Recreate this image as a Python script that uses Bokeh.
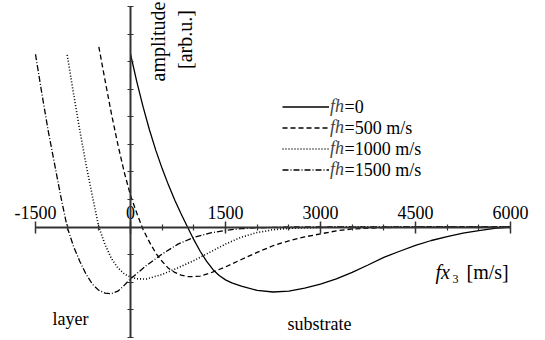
import math
from bokeh.plotting import figure
from bokeh.models import (Range1d, LinearAxis, FixedTicker, CustomJSTickFormatter,
                          Legend, LegendItem, Label)
from bokeh.embed import file_html
from bokeh.resources import INLINE

# ---------------- data ----------------
x_fh0 = [0, 100, 200, 300, 400, 500, 600, 700, 800, 900, 1000, 1100, 1200, 1300, 1400,
         1500, 1600, 1750, 2000, 2250, 2500, 2750, 3000, 3250, 3500, 3750, 4000, 4250,
         4500, 4750, 5000, 5250, 5500, 5750, 6000]
y_fh0 = [6.28, 5.27, 4.35, 3.52, 2.78, 2.12, 1.52, 0.97, 0.47, 0.0, -0.46, -0.88, -1.24,
         -1.54, -1.76, -1.92, -2.03, -2.15, -2.30, -2.36, -2.33, -2.22, -2.07, -1.88,
         -1.65, -1.38, -1.10, -0.88, -0.67, -0.49, -0.35, -0.22, -0.13, -0.05, 0.0]

x_fh500 = [-500, -400, -300, -200, -100, 0, 100, 200, 300, 400, 500, 600, 700, 800, 900,
           1000, 1100, 1250, 1500, 1750, 2000, 2250, 2500, 2750, 3000, 3250, 3500, 4000,
           4500, 6000]
y_fh500 = [6.54, 5.30, 4.10, 3.00, 2.00, 1.15, 0.50, -0.10, -0.55, -0.95, -1.25, -1.50,
           -1.65, -1.75, -1.80, -1.80, -1.78, -1.68, -1.45, -1.18, -0.92, -0.68, -0.50,
           -0.36, -0.25, -0.14, -0.07, -0.02, 0.0, 0.0]

x_fh1000 = [-1000, -900, -800, -700, -600, -500, -400, -300, -200, -100, 0, 100, 250, 500,
            750, 1000, 1250, 1500, 1750, 2000, 2250, 2500, 3000, 3500, 6000]
y_fh1000 = [6.25, 4.85, 3.50, 2.25, 1.10, 0.0, -0.65, -1.15, -1.48, -1.70, -1.82, -1.88,
            -1.89, -1.72, -1.48, -1.22, -0.92, -0.62, -0.37, -0.20, -0.10, -0.05, -0.01,
            0.0, 0.0]

x_fh1500 = [-1500, -1400, -1300, -1200, -1100, -1000, -900, -800, -700, -600, -500, -400,
            -300, -200, -100, 0, 250, 500, 750, 1000, 1250, 1500, 1750, 2000, 2500, 3000,
            6000]
y_fh1500 = [6.27, 4.85, 3.50, 2.30, 1.10, 0.0, -0.70, -1.25, -1.72, -2.08, -2.30, -2.40,
            -2.42, -2.33, -2.12, -1.88, -1.40, -0.98, -0.62, -0.38, -0.22, -0.12, -0.06,
            -0.03, 0.0, 0.0, 0.0]

series_names = ["=0", "=500 m/s", "=1000 m/s", "=1500 m/s"]
x_major_ticks = [-1500, 0, 1500, 3000, 4500, 6000]
x_minor_ticks = [-1000, -500, 500, 1000, 2000, 2500, 3500, 4000, 5000, 5500]
y_ticks = [-4, -3, -2, -1, 0, 1, 2, 3, 4, 5, 6, 7, 8]

# ---------------- layout helpers (pixel -> data) ----------------
W, H = 545, 340
PX_PER_X = 95.0 / 1500.0
X0_PX = 130.0
Y0_PX = 226.5
PX_PER_Y = 27.55


def X(px):
    return (px - X0_PX) / PX_PER_X


def Y(py):
    return (Y0_PX - py) / PX_PER_Y


FONT = "Liberation Serif"
AX_COLOR = "#333333"

p = figure(width=W, height=H, output_backend="svg", toolbar_location=None,
           x_range=Range1d(X(0), X(W)), y_range=Range1d(Y(H), Y(0)),
           x_axis_type=None, y_axis_type=None, min_border=0)
p.outline_line_color = None
p.xgrid.visible = False
p.ygrid.visible = False
p.background_fill_color = "white"
p.border_fill_color = "white"

# x axis through y=0, labels above
xaxis = LinearAxis(fixed_location=0, bounds=(-1500, 6000),
                   ticker=FixedTicker(ticks=x_major_ticks, minor_ticks=x_minor_ticks),
                   formatter=CustomJSTickFormatter(code="return tick.toFixed(0)"))
xaxis.axis_line_color = AX_COLOR
xaxis.axis_line_width = 1.8
xaxis.major_tick_line_color = AX_COLOR
xaxis.major_tick_line_width = 1.5
xaxis.minor_tick_line_color = AX_COLOR
xaxis.minor_tick_line_width = 1.2
xaxis.major_tick_in = 6
xaxis.major_tick_out = 6
xaxis.minor_tick_in = 3
xaxis.minor_tick_out = 3
xaxis.major_label_standoff = 2
xaxis.major_label_text_font = FONT
xaxis.major_label_text_font_size = "18px"
xaxis.major_label_text_color = "black"
p.add_layout(xaxis, "above")

# y axis through x=0, no labels
yaxis = LinearAxis(fixed_location=0, bounds=(-4, 8),
                   ticker=FixedTicker(ticks=y_ticks, minor_ticks=[]),
                   formatter=CustomJSTickFormatter(code="return ''"))
yaxis.axis_line_color = AX_COLOR
yaxis.axis_line_width = 2
yaxis.major_tick_line_color = AX_COLOR
yaxis.major_tick_line_width = 1.2
yaxis.major_tick_in = 3
yaxis.major_tick_out = 3
yaxis.minor_tick_line_color = None
p.add_layout(yaxis, "left")

# curves
r0 = p.line(x_fh0, y_fh0, line_color="black", line_width=1.3)
r1 = p.line(x_fh500, y_fh500, line_color="black", line_width=1.3, line_dash="5 3")
r2 = p.line(x_fh1000, y_fh1000, line_color="black", line_width=1.6, line_dash="1 2")
r3 = p.line(x_fh1500, y_fh1500, line_color="black", line_width=1.3, line_dash="6 2 1 2")

# legend: keys + italic "fh"; the rest of each label as plain text
row_top_px = 95.5
row_h = 21
legend = Legend(items=[LegendItem(label="fh", renderers=[r]) for r in (r0, r1, r2, r3)],
                location=(282, H - (row_top_px + 4 * row_h)),
                padding=0, margin=0, spacing=0, glyph_width=47, glyph_height=row_h,
                label_height=row_h, label_standoff=1,
                border_line_color=None, background_fill_alpha=0,
                label_text_font=FONT, label_text_font_size="18px",
                label_text_font_style="italic", label_text_baseline="middle")
p.add_layout(legend, "center")

for i, name in enumerate(series_names):
    p.add_layout(Label(x=X(344), y=Y(row_top_px + row_h / 2 + i * row_h), text=name,
                       text_font=FONT, text_font_size="18px", text_align="left",
                       text_baseline="middle", text_color="black"))

# axis titles
p.add_layout(Label(x=X(157.5), y=Y(41), text="amplitude", angle=math.pi / 2,
                   text_font=FONT, text_font_size="20px", text_align="center",
                   text_baseline="middle", text_color="black"))
p.add_layout(Label(x=X(184), y=Y(39), text="[arb.u.]", angle=math.pi / 2,
                   text_font=FONT, text_font_size="20px", text_align="center",
                   text_baseline="middle", text_color="black"))

p.add_layout(Label(x=X(435), y=Y(271), text="fx", text_font=FONT, text_font_size="20px",
                   text_font_style="italic", text_align="left", text_baseline="alphabetic",
                   text_color="black"))
p.add_layout(Label(x=X(452), y=Y(278), text="3", text_font=FONT, text_font_size="12px",
                   text_align="left", text_baseline="alphabetic", text_color="black"))
p.add_layout(Label(x=X(466), y=Y(271), text="[m/s]", text_font=FONT, text_font_size="20px",
                   text_align="left", text_baseline="alphabetic", text_color="black"))

# region labels
p.add_layout(Label(x=X(52), y=Y(318), text="layer", text_font=FONT, text_font_size="18px",
                   text_align="left", text_baseline="alphabetic", text_color="black"))
p.add_layout(Label(x=X(287), y=Y(323), text="substrate", text_font=FONT,
                   text_font_size="18px", text_align="left", text_baseline="alphabetic",
                   text_color="black"))

open("out.html", "w").write(file_html(p, INLINE))
